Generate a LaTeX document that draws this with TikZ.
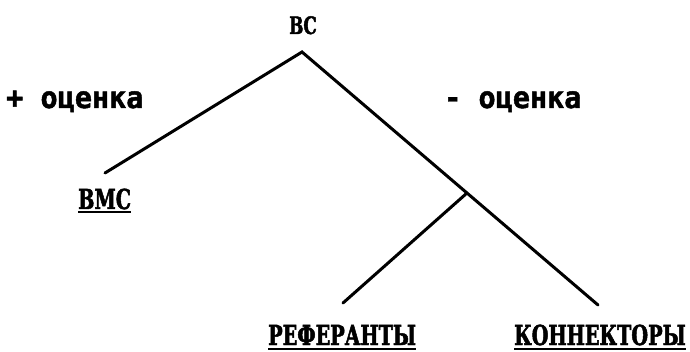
\documentclass[tikz,border=0pt]{standalone}
\usepackage{fontspec}
\newfontfamily\slabfont[FakeStretch=0.7,FakeBold=1.8]{DejaVu Serif}
\newfontfamily\markfont[FakeStretch=0.95,FakeBold=1.5]{DejaVu Sans Mono}
\begin{document}
\begin{tikzpicture}[x=1pt,y=-1pt,
  branch/.style={line width=3pt,line cap=round},
  term/.style={anchor=base west,inner sep=0pt,font=\slabfont\bfseries\fontsize{27.5}{30}\selectfont},
  evalmark/.style={anchor=base west,inner sep=0pt,font=\markfont\bfseries\fontsize{30}{32}\selectfont},
  uline/.style={line width=2pt}]
  \useasboundingbox (0,0) rectangle (690,352);
  % root label and tree points
  \node[term,anchor=base,font=\slabfont\bfseries\fontsize{24}{26}\selectfont] (root) at (303,34) {ВС};
  \coordinate (apex) at (302,52);
  \coordinate (lend) at (105,173);
  \coordinate (fork) at (467,193);
  \coordinate (rend) at (598,305);
  \coordinate (bend) at (343,303);
  % branches
  \draw[branch] (lend) -- (apex) -- (rend);
  \draw[branch] (fork) -- (bend);
  % evaluation marks
  \node[evalmark] (plus) at (6,108) {+ оценка};
  \node[evalmark] (minus) at (444,108) {- оценка};
  % leaves
  \node[term] (vms) at (78,209) {ВМС};
  \node[term] (ref) at (268,345) {РЕФЕРАНТЫ};
  \node[term] (con) at (514,345) {КОННЕКТОРЫ};
  \foreach \n in {vms,ref,con}
    \draw[uline] ([yshift=-3.5pt]\n.base west) -- ([yshift=-3.5pt]\n.base east);
\end{tikzpicture}
\end{document}
